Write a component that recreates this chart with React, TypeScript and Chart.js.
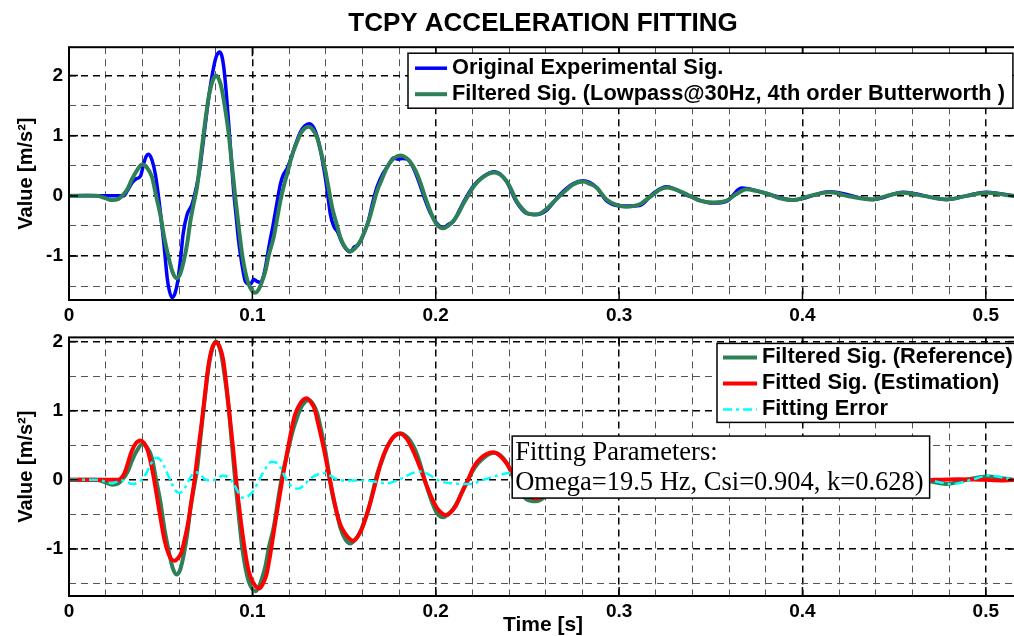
import React, { useEffect, useRef } from "react";
import { Chart, registerables } from "chart.js";

Chart.register(...registerables);

const SANS = '"Liberation Sans", Arial, Helvetica, sans-serif';
const SERIF = '"Liberation Serif", "Times New Roman", Times, serif';

// ---- text ----
const chartTitle = "TCPY ACCELERATION FITTING";
const xAxisTitle = "Time [s]";
const yAxisTitle = "Value [m/s²]";
const xTickLabels = ["0", "0.1", "0.2", "0.3", "0.4", "0.5"];
const yTickLabels = ["-1", "0", "1", "2"];
const fitParamLines = ["Fitting Parameters:", "Omega=19.5 Hz, Csi=0.904, k=0.628)"];
const labelOriginal = "Original Experimental Sig.";
const labelFilteredTop = "Filtered Sig. (Lowpass@30Hz, 4th order Butterworth )";
const labelFilteredBottom = "Filtered Sig. (Reference)";
const labelFitted = "Fitted Sig. (Estimation)";
const labelError = "Fitting Error";

// ---- axis ranges ----
const xRange = [0, 0.517];
const topYRange = [-1.73, 2.47];
const bottomYRange = [-1.68, 2.06];
const fitBoxAnchor = [0.2417, 0.633]; // data coords (time, value) of the parameter box corner

// ---- series: [time s, value m/s²] ----
const originalSig = [
  [0, 0], [0.01, 0.005], [0.02, 0], [0.0298, 0], [0.0317, 0.08], [0.0344, 0.22], [0.0365, 0.28],
  [0.039, 0.33], [0.0407, 0.53], [0.042, 0.65], [0.0435, 0.69], [0.0452, 0.6], [0.0471, 0.36],
  [0.0489, -0.03], [0.0505, -0.45], [0.0516, -0.75], [0.0538, -1.42], [0.0562, -1.69], [0.0578, -1.62],
  [0.0593, -1.42], [0.061, -1.0], [0.0622, -0.64], [0.0644, -0.31], [0.0671, -0.14], [0.0698, 0.19],
  [0.0712, 0.42], [0.0726, 0.75], [0.0744, 1.2], [0.0762, 1.64], [0.0789, 2.14], [0.0805, 2.33],
  [0.0822, 2.39], [0.0834, 2.32], [0.0844, 2.14], [0.0858, 1.7], [0.0871, 1.19], [0.0885, 0.62],
  [0.0898, 0.08], [0.0912, -0.35], [0.0925, -0.75], [0.0944, -1.15], [0.0962, -1.42], [0.0989, -1.47],
  [0.1007, -1.39], [0.1025, -1.42], [0.1044, -1.44], [0.1058, -1.36], [0.1071, -1.19], [0.109, -0.85],
  [0.1112, -0.5], [0.1135, -0.1], [0.1153, 0.2], [0.117, 0.36], [0.1189, 0.45], [0.121, 0.62],
  [0.1235, 0.85], [0.126, 1.05], [0.1285, 1.16], [0.131, 1.2], [0.1335, 1.13], [0.1355, 0.97],
  [0.1375, 0.7], [0.1398, 0.3], [0.1416, -0.1], [0.1425, -0.3], [0.1443, -0.5], [0.1465, -0.6],
  [0.1485, -0.75], [0.151, -0.88], [0.1534, -0.93], [0.1555, -0.85], [0.1575, -0.82], [0.1595, -0.72],
  [0.1634, -0.4], [0.1657, -0.1], [0.168, 0.15], [0.171, 0.36], [0.174, 0.5], [0.177, 0.63],
  [0.1795, 0.61], [0.182, 0.62], [0.185, 0.6], [0.188, 0.45], [0.191, 0.22], [0.194, -0.05],
  [0.197, -0.28], [0.2004, -0.45], [0.204, -0.53], [0.207, -0.47], [0.2095, -0.43], [0.2149, -0.12],
  [0.2204, 0.16], [0.2258, 0.32], [0.2322, 0.4], [0.2386, 0.24], [0.244, -0.1], [0.2495, -0.29],
  [0.2549, -0.31], [0.2604, -0.24], [0.2677, 0.02], [0.2749, 0.2], [0.2804, 0.25], [0.2877, 0.14],
  [0.2931, -0.08], [0.2986, -0.16], [0.304, -0.17], [0.3113, -0.16], [0.3186, 0.04], [0.3259, 0.15],
  [0.3386, -0.01], [0.3513, -0.12], [0.3586, -0.09], [0.3668, 0.13], [0.3804, 0.04], [0.3949, -0.07],
  [0.4149, 0.07], [0.4386, -0.06], [0.4549, 0.06], [0.4786, -0.06], [0.5004, 0.06], [0.517, -0.01],
];

const filteredSig = [
  [0, 0], [0.015, 0], [0.02, -0.04], [0.0235, -0.07], [0.027, -0.05], [0.029, 0], [0.032, 0.12],
  [0.0344, 0.28], [0.037, 0.42], [0.0399, 0.52], [0.0425, 0.47], [0.0453, 0.31], [0.0475, 0.0],
  [0.0498, -0.31], [0.052, -0.7], [0.0544, -1.03], [0.0565, -1.27], [0.0586, -1.37], [0.0606, -1.3],
  [0.0626, -1.08], [0.0645, -0.78], [0.0662, -0.42], [0.068, -0.13], [0.0698, 0.14], [0.0716, 0.58],
  [0.0734, 1.03], [0.0762, 1.64], [0.0782, 1.9], [0.0802, 2.0], [0.082, 1.92], [0.0835, 1.75],
  [0.0853, 1.42], [0.0871, 1.03], [0.0889, 0.5], [0.0907, -0.03], [0.0925, -0.5], [0.0944, -0.97],
  [0.0962, -1.27], [0.098, -1.47], [0.1, -1.58], [0.1016, -1.61], [0.1035, -1.55], [0.1053, -1.42],
  [0.1071, -1.25], [0.1089, -0.99], [0.1116, -0.69], [0.1135, -0.38], [0.1153, -0.08], [0.1171, 0.16],
  [0.1189, 0.36], [0.1207, 0.57], [0.1225, 0.75], [0.1244, 0.9], [0.1262, 1.03], [0.1285, 1.12],
  [0.1307, 1.15], [0.133, 1.1], [0.1353, 0.97], [0.1375, 0.72], [0.1398, 0.42], [0.1416, 0.12],
  [0.1435, -0.19], [0.1458, -0.45], [0.148, -0.69], [0.1505, -0.85], [0.1534, -0.92], [0.156, -0.87],
  [0.1589, -0.75], [0.1611, -0.6], [0.1634, -0.42], [0.1657, -0.17], [0.168, 0.08], [0.1707, 0.28],
  [0.1734, 0.47], [0.177, 0.62], [0.1807, 0.67], [0.1835, 0.64], [0.1862, 0.56], [0.189, 0.42],
  [0.1913, 0.25], [0.194, 0.0], [0.197, -0.25], [0.2004, -0.47], [0.204, -0.54], [0.2067, -0.5],
  [0.2095, -0.42], [0.2122, -0.3], [0.2149, -0.14], [0.2176, 0.0], [0.2204, 0.14], [0.2231, 0.24],
  [0.2258, 0.31], [0.229, 0.37], [0.2322, 0.39], [0.2354, 0.35], [0.2386, 0.25], [0.2413, 0.1],
  [0.244, -0.08], [0.2468, -0.2], [0.2495, -0.28], [0.2549, -0.31], [0.2577, -0.28], [0.2604, -0.22],
  [0.264, -0.11], [0.2677, 0.0], [0.2713, 0.1], [0.2749, 0.19], [0.2804, 0.24], [0.284, 0.2],
  [0.2877, 0.14], [0.2904, 0.04], [0.2931, -0.06], [0.2986, -0.15], [0.304, -0.18], [0.3077, -0.17],
  [0.3113, -0.14], [0.315, -0.06], [0.3186, 0.02], [0.322, 0.1], [0.3262, 0.14], [0.333, 0.08],
  [0.3386, 0.0], [0.344, -0.08], [0.3513, -0.11], [0.3586, -0.08], [0.364, 0.03], [0.3695, 0.11],
  [0.375, 0.08], [0.3804, 0.04], [0.3877, -0.04], [0.3949, -0.07], [0.404, 0.0], [0.4149, 0.06],
  [0.4259, -0.01], [0.4386, -0.06], [0.4459, 0.0], [0.4549, 0.05], [0.4659, 0.0], [0.4786, -0.06],
  [0.4895, 0.0], [0.5004, 0.05], [0.51, 0.02], [0.517, -0.01],
];

const fittedSig = [
  [0, 0], [0.0267, 0], [0.0303, 0.1], [0.034, 0.4], [0.0365, 0.53], [0.039, 0.57], [0.041, 0.53],
  [0.043, 0.42], [0.045, 0.2], [0.0467, -0.04], [0.0485, -0.33], [0.0504, -0.63], [0.052, -0.86],
  [0.054, -1.05], [0.0558, -1.15], [0.0576, -1.17], [0.0595, -1.13], [0.0613, -1.05], [0.063, -0.87],
  [0.0649, -0.63], [0.0667, -0.32], [0.0685, 0.01], [0.0703, 0.4], [0.0722, 0.79], [0.074, 1.2],
  [0.0758, 1.61], [0.078, 1.9], [0.0803, 1.99], [0.0822, 1.92], [0.084, 1.75], [0.0858, 1.38],
  [0.0876, 0.93], [0.0895, 0.45], [0.0913, -0.04], [0.0935, -0.55], [0.0958, -1.0], [0.098, -1.32],
  [0.1003, -1.48], [0.1022, -1.55], [0.104, -1.57], [0.1058, -1.5], [0.1077, -1.37], [0.1095, -1.12],
  [0.1113, -0.82], [0.1135, -0.45], [0.1158, -0.08], [0.1176, 0.2], [0.1195, 0.47], [0.1213, 0.72],
  [0.1231, 0.93], [0.126, 1.1], [0.1295, 1.18], [0.132, 1.12], [0.134, 1.02], [0.136, 0.8],
  [0.1385, 0.51], [0.1404, 0.26], [0.1422, 0.01], [0.1458, -0.45], [0.148, -0.65], [0.1504, -0.77],
  [0.1549, -0.88], [0.1595, -0.72], [0.164, -0.36], [0.1677, 0.01], [0.1705, 0.28], [0.1731, 0.45],
  [0.177, 0.62], [0.1804, 0.67], [0.184, 0.6], [0.1877, 0.42], [0.1913, 0.19], [0.195, -0.08],
  [0.1985, -0.3], [0.2013, -0.43], [0.2055, -0.51], [0.2104, -0.4], [0.214, -0.2], [0.2176, 0.0],
  [0.221, 0.2], [0.224, 0.3], [0.2275, 0.37], [0.2313, 0.4], [0.235, 0.35], [0.2386, 0.24],
  [0.2413, 0.12], [0.244, 0.0], [0.2495, -0.2], [0.2549, -0.27], [0.26, -0.21], [0.268, 0.0],
  [0.281, 0.2], [0.294, 0.0], [0.306, -0.15], [0.319, 0.0], [0.332, 0.11], [0.345, 0.0],
  [0.357, -0.08], [0.37, 0.0], [0.383, 0.06], [0.396, 0.0], [0.408, -0.04], [0.421, 0.0],
  [0.434, 0.03], [0.447, 0.0], [0.459, -0.02], [0.472, 0.0], [0.485, 0.01], [0.498, 0.0],
  [0.51, -0.01], [0.517, 0.0],
];

const fittingError = [
  [0, 0], [0.015, 0], [0.019, -0.02], [0.023, -0.05], [0.026, -0.03], [0.029, -0.01], [0.032, -0.04],
  [0.035, -0.06], [0.0375, -0.04], [0.04, 0.01], [0.042, 0.09], [0.044, 0.19], [0.0458, 0.28],
  [0.0476, 0.32], [0.0498, 0.29], [0.052, 0.19], [0.054, 0.07], [0.0558, -0.04], [0.058, -0.15],
  [0.06, -0.19], [0.062, -0.16], [0.064, -0.08], [0.0665, 0.05], [0.069, 0.11], [0.0715, 0.08],
  [0.074, 0.01], [0.0785, -0.01], [0.081, 0.03], [0.084, 0.06], [0.0876, 0.02], [0.0905, -0.09],
  [0.0925, -0.19], [0.0949, -0.26], [0.0975, -0.24], [0.1003, -0.17], [0.103, -0.04], [0.1058, 0.1],
  [0.108, 0.2], [0.1104, 0.26], [0.113, 0.25], [0.115, 0.19], [0.1175, 0.06], [0.1195, -0.04],
  [0.1225, -0.11], [0.125, -0.13], [0.128, -0.08], [0.1313, 0.01], [0.135, 0.07], [0.1395, 0.1],
  [0.1425, 0.06], [0.1458, 0.01], [0.1513, -0.01], [0.1622, -0.01], [0.1731, -0.05], [0.1822, 0.03],
  [0.1875, 0.1], [0.1916, 0.12], [0.196, 0.08], [0.2025, -0.02], [0.208, -0.05], [0.214, -0.06],
  [0.219, -0.06], [0.225, -0.01], [0.232, 0.05], [0.2407, 0.1], [0.247, 0.07], [0.255, -0.03],
  [0.265, -0.02], [0.275, 0.02], [0.285, 0.03], [0.295, -0.02], [0.305, -0.04], [0.315, 0.0],
  [0.325, 0.03], [0.335, 0.03], [0.345, -0.03], [0.355, -0.04], [0.365, 0.02], [0.375, 0.04],
  [0.385, -0.01], [0.395, -0.04], [0.405, 0.0], [0.415, 0.04], [0.425, 0.0], [0.437, -0.05],
  [0.447, 0.0], [0.456, 0.05], [0.468, 0.0], [0.482, -0.06], [0.492, 0.0], [0.502, 0.065],
  [0.51, 0.03], [0.517, -0.01],
];

// ---- styles ----
const COLOR_BLUE = "#0000FF";
const COLOR_GREEN = "#2E8057";
const COLOR_RED = "#FF0000";
const COLOR_CYAN = "#00FFFF";

const toPoints = (s: number[][]) => s.map(([x, y]) => ({ x, y }));
const near = (a: number, b: number) => Math.abs(a - b) < 1e-6;
const isMajorX = (v: any) => typeof v === "number" && xTickLabels.some((l) => near(parseFloat(l), v));
const isMajorY = (v: any) => typeof v === "number" && yTickLabels.some((l) => near(parseFloat(l), v));

const decorPlugin = {
  id: "decor",
  afterDraw(chart: any, _args: any, opts: any) {
    const { ctx, chartArea: a, scales } = chart;
    const xs = scales.x;
    const ys = scales.y;
    ctx.save();
    ctx.setLineDash([]);
    ctx.strokeStyle = "#000";
    // inward tick marks
    ctx.lineWidth = 1.5;
    const seg = (x1: number, y1: number, x2: number, y2: number) => {
      ctx.beginPath();
      ctx.moveTo(x1, y1);
      ctx.lineTo(x2, y2);
      ctx.stroke();
    };
    xTickLabels.forEach((l) => {
      const px = xs.getPixelForValue(parseFloat(l));
      seg(px, a.top, px, a.top + 9);
      seg(px, a.bottom, px, a.bottom - 9);
    });
    yTickLabels.forEach((l) => {
      const py = ys.getPixelForValue(parseFloat(l));
      seg(a.left, py, a.left + 9, py);
      seg(a.right, py, a.right - 9, py);
    });
    // axes box
    ctx.lineWidth = 2;
    ctx.strokeRect(a.left, a.top, a.right - a.left, a.bottom - a.top);

    // legend
    const lg = opts && opts.legend;
    if (lg) {
      const items = chart.data.datasets;
      ctx.font = `bold ${lg.fontSize}px ${SANS}`;
      const tw = Math.max(...items.map((d: any) => ctx.measureText(d.label).width));
      const w = lg.padL + lg.lineLen + lg.gap + tw + lg.padR;
      const h = lg.first + lg.rowH * (items.length - 1) + lg.last;
      const left = lg.left;
      const top = a.top + lg.dy;
      ctx.fillStyle = "#fff";
      ctx.fillRect(left, top, w, h);
      ctx.lineWidth = 1.5;
      ctx.strokeStyle = "#000";
      ctx.strokeRect(left, top, w, h);
      items.forEach((d: any, i: number) => {
        const y = top + lg.first + i * lg.rowH;
        ctx.save();
        ctx.strokeStyle = d.borderColor;
        ctx.lineWidth = d.borderWidth;
        ctx.setLineDash(d.borderDash || []);
        seg(left + lg.padL, y, left + lg.padL + lg.lineLen, y);
        ctx.restore();
        ctx.fillStyle = "#000";
        ctx.textBaseline = "middle";
        ctx.textAlign = "left";
        ctx.fillText(d.label, left + lg.padL + lg.lineLen + lg.gap, y);
      });
    }

    // parameter text box
    const tb = opts && opts.textBox;
    if (tb) {
      ctx.font = `${tb.fontSize}px ${SERIF}`;
      const tw = Math.max(...fitParamLines.map((s) => ctx.measureText(s).width));
      const left = xs.getPixelForValue(fitBoxAnchor[0]);
      const top = ys.getPixelForValue(fitBoxAnchor[1]);
      const w = tb.padL + tw + tb.padR;
      const h = tb.first + tb.rowH * (fitParamLines.length - 1) + tb.last;
      ctx.fillStyle = "#fff";
      ctx.fillRect(left, top, w, h);
      ctx.lineWidth = 1.5;
      ctx.strokeStyle = "#000";
      ctx.strokeRect(left, top, w, h);
      ctx.fillStyle = "#000";
      ctx.textBaseline = "middle";
      ctx.textAlign = "left";
      fitParamLines.forEach((s, i) => ctx.fillText(s, left + tb.padL, top + tb.first + i * tb.rowH));
    }
    ctx.restore();
  },
};

function makeScales(yRange: number[], xHeight: number, showXTitle: boolean) {
  const tickFont = { family: SANS, size: 19, weight: "bold" as const };
  return {
    x: {
      type: "linear" as const,
      min: xRange[0],
      max: xRange[1],
      afterFit: (s: any) => {
        s.height = xHeight;
      },
      ticks: {
        stepSize: 0.02,
        autoSkip: false,
        maxRotation: 0,
        minRotation: 0,
        includeBounds: false,
        padding: 4,
        color: "#000",
        font: tickFont,
        callback: (v: any) => xTickLabels.find((l) => near(parseFloat(l), Number(v))) ?? "",
      },
      grid: {
        drawTicks: false,
        color: (c: any) => (isMajorX(c.tick && c.tick.value) ? "#000" : "#555"),
        lineWidth: (c: any) => (isMajorX(c.tick && c.tick.value) ? 1.5 : 1),
      },
      border: { display: false, dash: [7, 5] },
      title: {
        display: showXTitle,
        text: xAxisTitle,
        color: "#000",
        font: { family: SANS, size: 21, weight: "bold" as const, lineHeight: 1 },
        padding: { top: 0, bottom: 0 },
      },
    },
    y: {
      type: "linear" as const,
      min: yRange[0],
      max: yRange[1],
      afterFit: (s: any) => {
        s.width = 69;
      },
      ticks: {
        stepSize: 0.5,
        autoSkip: false,
        includeBounds: false,
        padding: 6,
        color: "#000",
        font: tickFont,
        callback: (v: any) => yTickLabels.find((l) => near(parseFloat(l), Number(v))) ?? "",
      },
      grid: {
        drawTicks: false,
        color: (c: any) => (isMajorY(c.tick && c.tick.value) ? "#000" : "#555"),
        lineWidth: (c: any) => (isMajorY(c.tick && c.tick.value) ? 1.5 : 1),
      },
      border: { display: false, dash: [7, 5] },
      title: {
        display: true,
        text: yAxisTitle,
        color: "#000",
        font: { family: SANS, size: 20, weight: "bold" as const },
        padding: { top: 14, bottom: 0 },
      },
    },
  };
}

const lineBase = {
  pointRadius: 0,
  pointHoverRadius: 0,
  fill: false,
  cubicInterpolationMode: "monotone" as const,
};

export default function App() {
  const topRef = useRef<HTMLCanvasElement>(null);
  const botRef = useRef<HTMLCanvasElement>(null);

  useEffect(() => {
    if (!topRef.current || !botRef.current) return;
    const top = new Chart(topRef.current, {
      type: "line",
      data: {
        datasets: [
          { ...lineBase, label: labelOriginal, data: toPoints(originalSig), borderColor: COLOR_BLUE, borderWidth: 3.5, order: 1 },
          { ...lineBase, label: labelFilteredTop, data: toPoints(filteredSig), borderColor: COLOR_GREEN, borderWidth: 4, order: 0 },
        ],
      },
      options: {
        responsive: false,
        animation: false,
        events: [],
        layout: { padding: { left: 0, right: 1, top: 0, bottom: 0 } },
        scales: makeScales(topYRange, 30, false) as any,
        plugins: {
          legend: { display: false },
          tooltip: { enabled: false },
          title: {
            display: true,
            text: chartTitle,
            fullSize: false,
            color: "#000",
            font: { family: SANS, size: 26, weight: "bold" },
            padding: { top: 8, bottom: 8 },
          },
          decor: {
            legend: { left: 408, dy: 6, fontSize: 21.8, first: 15, rowH: 26, last: 14, padL: 7, lineLen: 32, gap: 5, padR: 8 },
          },
        } as any,
      },
      plugins: [decorPlugin],
    });

    const bot = new Chart(botRef.current, {
      type: "line",
      data: {
        datasets: [
          { ...lineBase, label: labelFilteredBottom, data: toPoints(filteredSig), borderColor: COLOR_GREEN, borderWidth: 4, order: 2 },
          { ...lineBase, label: labelFitted, data: toPoints(fittedSig), borderColor: COLOR_RED, borderWidth: 4, order: 1 },
          { ...lineBase, label: labelError, data: toPoints(fittingError), borderColor: COLOR_CYAN, borderWidth: 2.5, borderDash: [9, 4, 3, 4], order: 0 },
        ],
      },
      options: {
        responsive: false,
        animation: false,
        events: [],
        layout: { padding: { left: 0, right: 1, top: 5, bottom: 0 } },
        scales: makeScales(bottomYRange, 40, true) as any,
        plugins: {
          legend: { display: false },
          tooltip: { enabled: false },
          title: { display: false },
          decor: {
            legend: { left: 717, dy: 6, fontSize: 21.8, first: 14, rowH: 26, last: 13, padL: 6, lineLen: 34, gap: 5, padR: 8 },
            textBox: { fontSize: 26.5, padL: 3, padR: 6, first: 17, rowH: 30, last: 15 },
          },
        } as any,
      },
      plugins: [decorPlugin],
    });

    return () => {
      top.destroy();
      bot.destroy();
    };
  }, []);

  return (
    <div
      style={{
        position: "fixed",
        left: 0,
        top: 0,
        width: 1014,
        height: 636,
        overflow: "hidden",
        background: "#fff",
      }}
    >
      <div style={{ position: "absolute", left: 0, top: 320, width: 1018, height: 316 }}>
        <canvas ref={botRef} width={1018} height={316} style={{ display: "block" }} />
      </div>
      <div style={{ position: "absolute", left: 0, top: 0, width: 1018, height: 330, zIndex: 1 }}>
        <canvas ref={topRef} width={1018} height={330} style={{ display: "block" }} />
      </div>
    </div>
  );
}
